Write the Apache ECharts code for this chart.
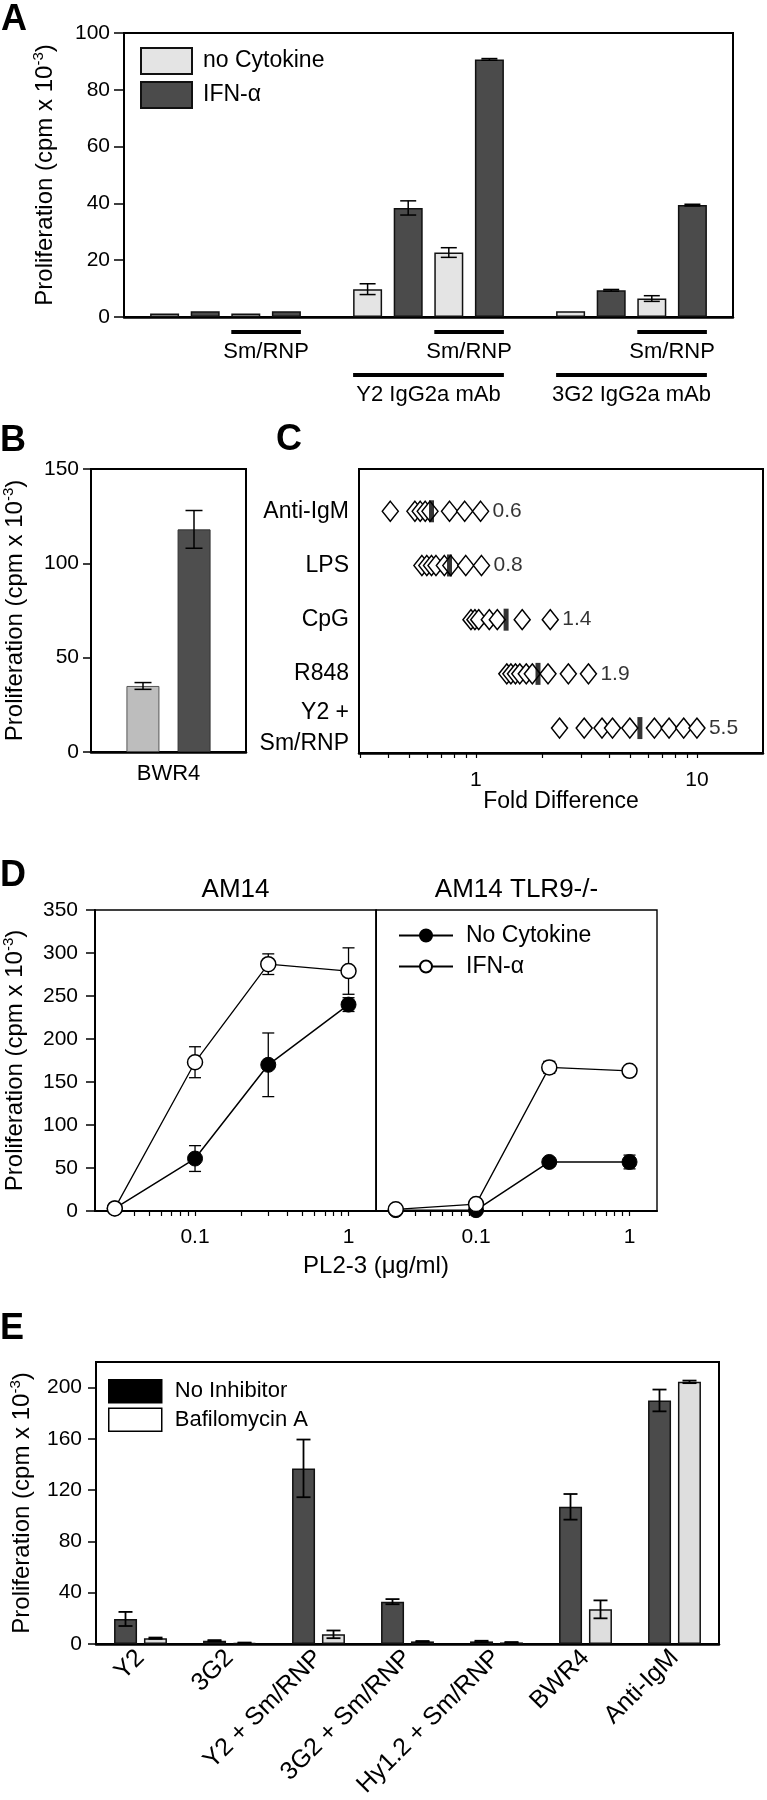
<!DOCTYPE html>
<html><head><meta charset="utf-8">
<script src="https://cdn.jsdelivr.net/npm/echarts@6/dist/echarts.min.js"></script>
<style>html,body{margin:0;padding:0;background:#fff}#c{width:767px;height:1800px}</style>
</head><body><div id="c"></div>
<script>
// ================= DATA =================
// Panel A
const aGroupNames = ['', 'Y2 IgG2a mAb', '3G2 IgG2a mAb'];
const aAntigen = ['', 'Sm/RNP'];
const aNoCytokine = [1.2, 1.2, 9.8, 22.7, 2.0, 6.5];
const aNoCytokineErr = [0, 0, 1.9, 1.7, 0, 1.0];
const aIFN = [2.0, 2.0, 38.4, 90.7, 9.4, 39.4];
const aIFNErr = [0, 0, 2.5, 0.3, 0.3, 0.3];
const aYTicks = [0, 20, 40, 60, 80, 100];
// Panel B
const bCategory = ['BWR4'];
const bNoCytokine = [35];
const bNoCytokineErr = [1.8];
const bIFN = [118];
const bIFNErr = [10];
const bYTicks = [0, 50, 100, 150];
// Panel C (fold difference, log scale)
const cStimuli = ['Anti-IgM', 'LPS', 'CpG', 'R848', 'Y2 +\nSm/RNP'];
const cAntiIgM = [0.41, 0.53, 0.56, 0.59, 0.62, 0.76, 0.89, 1.05];
const cLPS = [0.57, 0.60, 0.63, 0.66, 0.72, 0.77, 0.90, 1.06];
const cCpG = [0.95, 0.99, 1.03, 1.15, 1.25, 1.62, 2.17];
const cR848 = [1.38, 1.44, 1.51, 1.58, 1.69, 1.80, 2.12, 2.62, 3.23];
const cY2SmRNP = [2.39, 3.09, 3.72, 4.15, 4.97, 6.42, 7.48, 8.71, 10.0];
const cMeanFold = [0.63, 0.76, 1.37, 1.91, 5.52];
const cXLabels = [1, 10];
const cXTicks = [0.3, 0.4, 0.5, 0.6, 0.7, 0.8, 0.9, 1, 2, 3, 4, 5, 6, 7, 8, 9, 10, 20];
const cXRange = [0.296, 19.9];
// Panel D
const dTitles = ['AM14', 'AM14 TLR9-/-'];
const dConc = [0.03, 0.1, 0.3, 1];
const dAM14NoCytokine = [3, 61, 170, 240];
const dAM14NoCytokineErr = [1, 15, 37, 8];
const dAM14IFN = [3, 173, 287, 279];
const dAM14IFNErr = [1, 18, 12, 27];
const dTLR9NoCytokine = [1, 1, 57, 57];
const dTLR9NoCytokineErr = [0, 1, 5, 8];
const dTLR9IFN = [2, 8, 167, 163];
const dTLR9IFNErr = [0, 3, 7, 3];
const dXLabels = [0.1, 1];
const dXTicks = [0.03, 0.04, 0.05, 0.06, 0.07, 0.08, 0.09, 0.1, 0.2, 0.3, 0.4, 0.5, 0.6, 0.7, 0.8, 0.9, 1];
const dXRange = [0.0223, 1.51];
const dYTicks = [0, 50, 100, 150, 200, 250, 300, 350];
// Panel E
const eCategories = ['Y2', '3G2', 'Y2 + Sm/RNP', '3G2 + Sm/RNP', 'Hy1.2 + Sm/RNP', 'BWR4', 'Anti-IgM'];
const eNoInhibitor = [19.5, 2.5, 137, 33, 2.0, 107, 190];
const eNoInhibitorErr = [5.5, 0.5, 22.5, 2, 0.5, 10, 8.5];
const eBafilomycin = [4.5, 0.8, 7.5, 2.0, 1.2, 27, 204.5];
const eBafilomycinErr = [0.5, 0.3, 3, 0.3, 0.3, 7, 1];
const eYTicks = [0, 40, 80, 120, 160, 200];

// ================= HELPERS =================
const FONT = '"Liberation Sans", Arial, Helvetica, sans-serif';
const lg = Math.log10;
const BLACK = '#000';
const axisLine = (w) => ({show: true, onZero: false, lineStyle: {color: BLACK, width: w || 1.5}});
const tickLbl = (extra) => Object.assign({fontFamily: FONT, fontSize: 21, color: BLACK}, extra || {});
const yName = '{t|Proliferation (cpm x 10}{s|-3}{t|)}';
const yNameStyle = {
  fontFamily: FONT, fontSize: 24, color: BLACK,
  rich: {
    t: {fontFamily: FONT, fontSize: 24, color: BLACK, lineHeight: 28},
    s: {fontFamily: FONT, fontSize: 15, color: BLACK, lineHeight: 15, verticalAlign: 'top'}
  }
};
function errorBars(offset, cap, lw) {
  return function (params, api) {
    const lo = api.coord([api.value(0), api.value(1)]);
    const hi = api.coord([api.value(0), api.value(2)]);
    const x = lo[0] + offset;
    const st = {stroke: BLACK, lineWidth: lw, fill: null};
    return {type: 'group', children: [
      {type: 'line', shape: {x1: x, y1: lo[1], x2: x, y2: hi[1]}, style: st},
      {type: 'line', shape: {x1: x - cap / 2, y1: hi[1], x2: x + cap / 2, y2: hi[1]}, style: st},
      {type: 'line', shape: {x1: x - cap / 2, y1: lo[1], x2: x + cap / 2, y2: lo[1]}, style: st}
    ]};
  };
}
const errData = (xs, vals, errs) => vals.map((v, i) => [xs[i], v - errs[i], v + errs[i]]).filter((d, i) => errs[i] > 0);
const logTickFmt = (v) => { const r = Math.pow(10, v); return r >= 1 ? String(Math.round(r)) : String(+r.toPrecision(1)); };

// ---- Panel A slot layout (category slots with padding between groups) ----
const aSlots = ['pad0'];
const aNoSlot = [], aIFNSlot = [];
aGroupNames.forEach((g, gi) => {
  aAntigen.forEach((ag, ci) => {
    aNoSlot.push(aSlots.length); aSlots.push('g' + gi + 'c' + ci + 'no');
    aIFNSlot.push(aSlots.length); aSlots.push('g' + gi + 'c' + ci + 'ifn');
  });
  aSlots.push('pad' + (gi + 1));
});
const aNoData = aSlots.map(() => '-');
const aIFNData = aSlots.map(() => '-');
aNoCytokine.forEach((v, k) => { aNoData[aNoSlot[k]] = v; });
aIFN.forEach((v, k) => { aIFNData[aIFNSlot[k]] = v; });

const cRows = [cAntiIgM, cLPS, cCpG, cR848, cY2SmRNP];
const cDiamonds = [];
cRows.forEach((row, ri) => row.forEach(v => cDiamonds.push([lg(v), ri])));

const gridBox = {show: true, borderColor: BLACK, borderWidth: 2, backgroundColor: 'transparent'};

// ================= OPTION =================
const option = {
  animation: false,
  backgroundColor: '#fff',
  textStyle: {fontFamily: FONT},
  grid: [
    Object.assign({left: 124, top: 33, width: 609, height: 284}, gridBox),
    Object.assign({left: 89, top: 469, width: 157, height: 283}, gridBox),
    Object.assign({left: 359, top: 469, width: 404, height: 284}, gridBox),
    Object.assign({left: 95, top: 910, width: 281, height: 301}, gridBox, {borderWidth: 1.4}),
    Object.assign({left: 376, top: 910, width: 281, height: 301}, gridBox, {borderWidth: 1.4}),
    Object.assign({left: 88, top: 1362, width: 631, height: 290}, gridBox)
  ],
  legend: [
    {
      left: 135, top: 42, orient: 'vertical', itemWidth: 51, itemHeight: 26, itemGap: 6, icon: 'rect',
      data: ['A: no Cytokine', 'A: IFN-α'], selectedMode: false,
      formatter: n => n.slice(3),
      textStyle: {fontFamily: FONT, fontSize: 23, color: BLACK, padding: [0, 0, 0, 6]}
    },
    {
      left: 393, top: 919, orient: 'vertical', itemWidth: 54, itemHeight: 15, itemGap: 8,
      data: ['D: No Cytokine', 'D: IFN-α'], selectedMode: false,
      formatter: n => n.slice(3),
      textStyle: {fontFamily: FONT, fontSize: 23, color: BLACK, padding: [0, 0, 0, 8]}
    },
    {
      left: 103, top: 1374, orient: 'vertical', itemWidth: 53, itemHeight: 23, itemGap: 4, icon: 'rect',
      data: [
        {name: 'E: No Inhibitor', itemStyle: {color: '#000', borderColor: BLACK, borderWidth: 1.5}},
        {name: 'E: Bafilomycin A', itemStyle: {color: '#fff', borderColor: BLACK, borderWidth: 1.5}}
      ], selectedMode: false,
      formatter: n => n.slice(3),
      textStyle: {fontFamily: FONT, fontSize: 22, color: BLACK, padding: [0, 0, 0, 8]}
    }
  ],
  xAxis: [
    {gridIndex: 0, type: 'category', data: aSlots, boundaryGap: false, axisLine: axisLine(2.5),
      axisTick: {show: false}, axisLabel: {show: false}, splitLine: {show: false}},
    {gridIndex: 1, type: 'category', data: bCategory, axisLine: axisLine(2.5), axisTick: {show: false},
      axisLabel: tickLbl({fontSize: 22, margin: 11}), splitLine: {show: false}},
    {gridIndex: 2, type: 'value', min: lg(cXRange[0]), max: lg(cXRange[1]), axisLine: axisLine(2.5),
      axisTick: {show: true, length: 5, lineStyle: {color: BLACK, width: 1.2}, customValues: cXTicks.map(lg)},
      axisLabel: tickLbl({margin: 17, customValues: cXLabels.map(lg), formatter: logTickFmt}),
      splitLine: {show: false},
      name: 'Fold Difference', nameLocation: 'middle', nameGap: 37, nameMoveOverlap: false,
      nameTextStyle: {fontFamily: FONT, fontSize: 23, color: BLACK}},
    {gridIndex: 3, type: 'value', min: lg(dXRange[0]), max: lg(dXRange[1]), axisLine: axisLine(2),
      axisTick: {show: true, length: 5, lineStyle: {color: BLACK, width: 1.2}, customValues: dXTicks.map(lg)},
      axisLabel: tickLbl({margin: 16, customValues: dXLabels.map(lg), formatter: logTickFmt}),
      splitLine: {show: false}},
    {gridIndex: 4, type: 'value', min: lg(dXRange[0]), max: lg(dXRange[1]), axisLine: axisLine(2),
      axisTick: {show: true, length: 5, lineStyle: {color: BLACK, width: 1.2}, customValues: dXTicks.map(lg)},
      axisLabel: tickLbl({margin: 16, customValues: dXLabels.map(lg), formatter: logTickFmt}),
      splitLine: {show: false}},
    {gridIndex: 5, type: 'category', data: eCategories, axisLine: axisLine(2.5), axisTick: {show: false},
      axisLabel: tickLbl({fontSize: 25, rotate: 45, interval: 0, margin: 10}), splitLine: {show: false}}
  ],
  yAxis: [
    {gridIndex: 0, type: 'value', min: 0, max: 100, interval: 20, axisLine: axisLine(2),
      axisTick: {show: true, length: 10, lineStyle: {color: BLACK, width: 1.5}},
      axisLabel: tickLbl({margin: 14}), splitLine: {show: false},
      name: yName, nameLocation: 'middle', nameGap: 65, nameMoveOverlap: false, nameTextStyle: yNameStyle},
    {gridIndex: 1, type: 'value', min: 0, max: 150, interval: 50, axisLine: axisLine(2),
      axisTick: {show: true, length: 8, lineStyle: {color: BLACK, width: 1.5}},
      axisLabel: tickLbl({margin: 12}), splitLine: {show: false},
      name: yName, nameLocation: 'middle', nameGap: 62, nameMoveOverlap: false, nameTextStyle: yNameStyle},
    {gridIndex: 2, type: 'value', inverse: true, min: -0.78, max: 4.46, axisLine: axisLine(2),
      axisTick: {show: false},
      axisLabel: tickLbl({fontSize: 23, margin: 10, lineHeight: 31, customValues: [0, 1, 2, 3, 4],
        formatter: v => cStimuli[Math.round(v)]}), splitLine: {show: false}},
    {gridIndex: 3, type: 'value', min: 0, max: 350, interval: 50, axisLine: axisLine(2),
      axisTick: {show: true, length: 9, lineStyle: {color: BLACK, width: 1.5}},
      axisLabel: tickLbl({margin: 17}), splitLine: {show: false},
      name: yName, nameLocation: 'middle', nameGap: 66, nameMoveOverlap: false, nameTextStyle: yNameStyle},
    {gridIndex: 4, type: 'value', min: 0, max: 350, interval: 50, axisLine: axisLine(1),
      axisTick: {show: false}, axisLabel: {show: false}, splitLine: {show: false}},
    {gridIndex: 5, type: 'value', min: 0, max: 220, axisLine: axisLine(2),
      axisTick: {show: true, length: 8, lineStyle: {color: BLACK, width: 1.5}, customValues: eYTicks},
      axisLabel: tickLbl({margin: 14, customValues: eYTicks}), splitLine: {show: false},
      name: yName, nameLocation: 'middle', nameGap: 60, nameMoveOverlap: false, nameTextStyle: yNameStyle}
  ],
  series: [
    // ---- A ----
    {name: 'A: no Cytokine', type: 'bar', xAxisIndex: 0, yAxisIndex: 0, data: aNoData, barWidth: 29, barGap: '-100%',
      itemStyle: {color: '#e4e4e4', borderColor: '#111', borderWidth: 1.5}, silent: true},
    {name: 'A: IFN-α', type: 'bar', xAxisIndex: 0, yAxisIndex: 0, data: aIFNData, barWidth: 29, barGap: '-100%',
      itemStyle: {color: '#4b4b4b', borderColor: '#111', borderWidth: 1.5}, silent: true},
    {type: 'custom', xAxisIndex: 0, yAxisIndex: 0, renderItem: errorBars(0, 16, 1.5),
      data: errData(aNoSlot, aNoCytokine, aNoCytokineErr).concat(errData(aIFNSlot, aIFN, aIFNErr)), z: 5, silent: true},
    // ---- B ----
    {name: 'B: no Cytokine', type: 'bar', xAxisIndex: 1, yAxisIndex: 1, data: bNoCytokine, barWidth: 33, barGap: '55%',
      itemStyle: {color: '#bdbdbd', borderColor: '#555', borderWidth: 1}, silent: true},
    {name: 'B: IFN-α', type: 'bar', xAxisIndex: 1, yAxisIndex: 1, data: bIFN, barWidth: 33, barGap: '55%',
      itemStyle: {color: '#4e4e4e', borderColor: '#333', borderWidth: 1}, silent: true},
    {type: 'custom', xAxisIndex: 1, yAxisIndex: 1, renderItem: errorBars(-25.5, 17, 1.5),
      data: errData([0], bNoCytokine, bNoCytokineErr), z: 5, silent: true},
    {type: 'custom', xAxisIndex: 1, yAxisIndex: 1, renderItem: errorBars(25.5, 17, 1.5),
      data: errData([0], bIFN, bIFNErr), z: 5, silent: true},
    // ---- C ----
    {type: 'scatter', xAxisIndex: 2, yAxisIndex: 2, data: cDiamonds, symbol: 'diamond', symbolSize: [16, 20],
      itemStyle: {color: '#fff', borderColor: BLACK, borderWidth: 1.5, opacity: 1}, silent: true, z: 2},
    {type: 'scatter', xAxisIndex: 2, yAxisIndex: 2, data: cMeanFold.map((v, i) => [lg(v), i]),
      symbol: 'rect', symbolSize: [5, 22], itemStyle: {color: BLACK}, silent: true, z: 3},
    {type: 'scatter', xAxisIndex: 2, yAxisIndex: 2,
      data: cRows.map((row, i) => [lg(Math.max.apply(null, row)), i, cMeanFold[i].toFixed(1)]),
      symbol: 'diamond', symbolSize: [16, 20], itemStyle: {color: 'rgba(0,0,0,0)'}, silent: true, z: 3,
      label: {show: true, position: 'right', distance: 4, formatter: p => p.value[2],
        fontFamily: FONT, fontSize: 21, color: BLACK}},
    // ---- D left (AM14) ----
    {type: 'custom', xAxisIndex: 3, yAxisIndex: 3, renderItem: errorBars(0, 12, 1.3), z: 1, silent: true,
      data: errData(dConc.map(lg), dAM14NoCytokine, dAM14NoCytokineErr).concat(errData(dConc.map(lg), dAM14IFN, dAM14IFNErr))},
    {name: 'D: No Cytokine', type: 'line', xAxisIndex: 3, yAxisIndex: 3, data: dConc.map((c, i) => [lg(c), dAM14NoCytokine[i]]),
      symbol: 'circle', symbolSize: 15, lineStyle: {color: BLACK, width: 1.5},
      itemStyle: {color: BLACK, borderColor: BLACK, borderWidth: 1}, z: 3, silent: true},
    {name: 'D: IFN-α', type: 'line', xAxisIndex: 3, yAxisIndex: 3, data: dConc.map((c, i) => [lg(c), dAM14IFN[i]]),
      symbol: 'circle', symbolSize: 15, lineStyle: {color: BLACK, width: 1.3},
      itemStyle: {color: '#fff', borderColor: BLACK, borderWidth: 1.5}, z: 3, silent: true},
    // ---- D right (AM14 TLR9-/-) ----
    {type: 'custom', xAxisIndex: 4, yAxisIndex: 4, renderItem: errorBars(0, 12, 1.3), z: 1, silent: true,
      data: errData(dConc.map(lg), dTLR9NoCytokine, dTLR9NoCytokineErr).concat(errData(dConc.map(lg), dTLR9IFN, dTLR9IFNErr))},
    {name: 'D: No Cytokine', type: 'line', xAxisIndex: 4, yAxisIndex: 4, data: dConc.map((c, i) => [lg(c), dTLR9NoCytokine[i]]),
      symbol: 'circle', symbolSize: 15, lineStyle: {color: BLACK, width: 1.5},
      itemStyle: {color: BLACK, borderColor: BLACK, borderWidth: 1}, z: 3, silent: true},
    {name: 'D: IFN-α', type: 'line', xAxisIndex: 4, yAxisIndex: 4, data: dConc.map((c, i) => [lg(c), dTLR9IFN[i]]),
      symbol: 'circle', symbolSize: 15, lineStyle: {color: BLACK, width: 1.3},
      itemStyle: {color: '#fff', borderColor: BLACK, borderWidth: 1.5}, z: 3, silent: true},
    // ---- E ----
    {name: 'E: No Inhibitor', type: 'bar', xAxisIndex: 5, yAxisIndex: 5, data: eNoInhibitor, barWidth: 23, barGap: '30%',
      itemStyle: {color: '#4b4b4b', borderColor: '#111', borderWidth: 1.5}, silent: true},
    {name: 'E: Bafilomycin A', type: 'bar', xAxisIndex: 5, yAxisIndex: 5, data: eBafilomycin, barWidth: 23, barGap: '30%',
      itemStyle: {color: '#dedede', borderColor: '#111', borderWidth: 1.5}, silent: true},
    {type: 'custom', xAxisIndex: 5, yAxisIndex: 5, renderItem: errorBars(-15, 14, 1.8), z: 5, silent: true,
      data: errData(eCategories.map((c, i) => i), eNoInhibitor, eNoInhibitorErr)},
    {type: 'custom', xAxisIndex: 5, yAxisIndex: 5, renderItem: errorBars(15, 14, 1.8), z: 5, silent: true,
      data: errData(eCategories.map((c, i) => i), eBafilomycin, eBafilomycinErr)}
  ]
};

const chart = echarts.init(document.getElementById('c'), null, {renderer: 'canvas', width: 767, height: 1800});
chart.setOption(option);

// ================= ANNOTATIONS =================
const gr = [];
const text = (x, y, s, size, opts) => ({type: 'text', x: x, y: y, silent: true,
  style: Object.assign({text: s, font: size + 'px ' + FONT, fill: BLACK, align: 'center', verticalAlign: 'middle'}, opts || {})});
const panelLabel = (x, y, s) => ({type: 'text', x: x, y: y, silent: true,
  style: {text: s, font: 'bold 36px ' + FONT, fill: BLACK, align: 'left', verticalAlign: 'top'}});
gr.push(panelLabel(1, 2, 'A'), panelLabel(0, 423, 'B'), panelLabel(276, 422, 'C'), panelLabel(0, 858, 'D'), panelLabel(0, 1311, 'E'));

// Panel A condition bars under the axis
const xA = i => chart.convertToPixel({xAxisIndex: 0}, i);
const y0A = chart.convertToPixel({yAxisIndex: 0}, 0);
const half = 14.5;
aGroupNames.forEach((g, gi) => {
  const s1 = aNoSlot[gi * 2 + 1], s2 = aIFNSlot[gi * 2 + 1];
  const x1 = xA(s1) - half, x2 = xA(s2) + half;
  gr.push({type: 'rect', silent: true, shape: {x: x1, y: y0A + 13, width: x2 - x1, height: 4}, style: {fill: BLACK}});
  gr.push(text((x1 + x2) / 2, y0A + 35, aAntigen[1], 22));
  if (g) {
    const g1 = xA(aNoSlot[gi * 2]) - half;
    gr.push({type: 'rect', silent: true, shape: {x: g1, y: y0A + 56, width: x2 - g1, height: 4}, style: {fill: BLACK}});
    gr.push(text((g1 + x2) / 2, y0A + 78, g, 22));
  }
});
// Panel D titles and shared x-axis name
const dLeftMid = chart.convertToPixel({xAxisIndex: 3}, (lg(dXRange[0]) + lg(dXRange[1])) / 2);
const dRightMid = chart.convertToPixel({xAxisIndex: 4}, (lg(dXRange[0]) + lg(dXRange[1])) / 2);
const dTop = chart.convertToPixel({yAxisIndex: 3}, 350);
const dBottom = chart.convertToPixel({yAxisIndex: 3}, 0);
gr.push(text(dLeftMid, dTop - 20, dTitles[0], 26));
gr.push(text(dRightMid, dTop - 20, dTitles[1], 26));
gr.push(text(chart.convertToPixel({xAxisIndex: 4}, lg(dXRange[0])), dBottom + 55, 'PL2-3 (μg/ml)', 24));
chart.setOption({graphic: gr});
</script></body></html>
